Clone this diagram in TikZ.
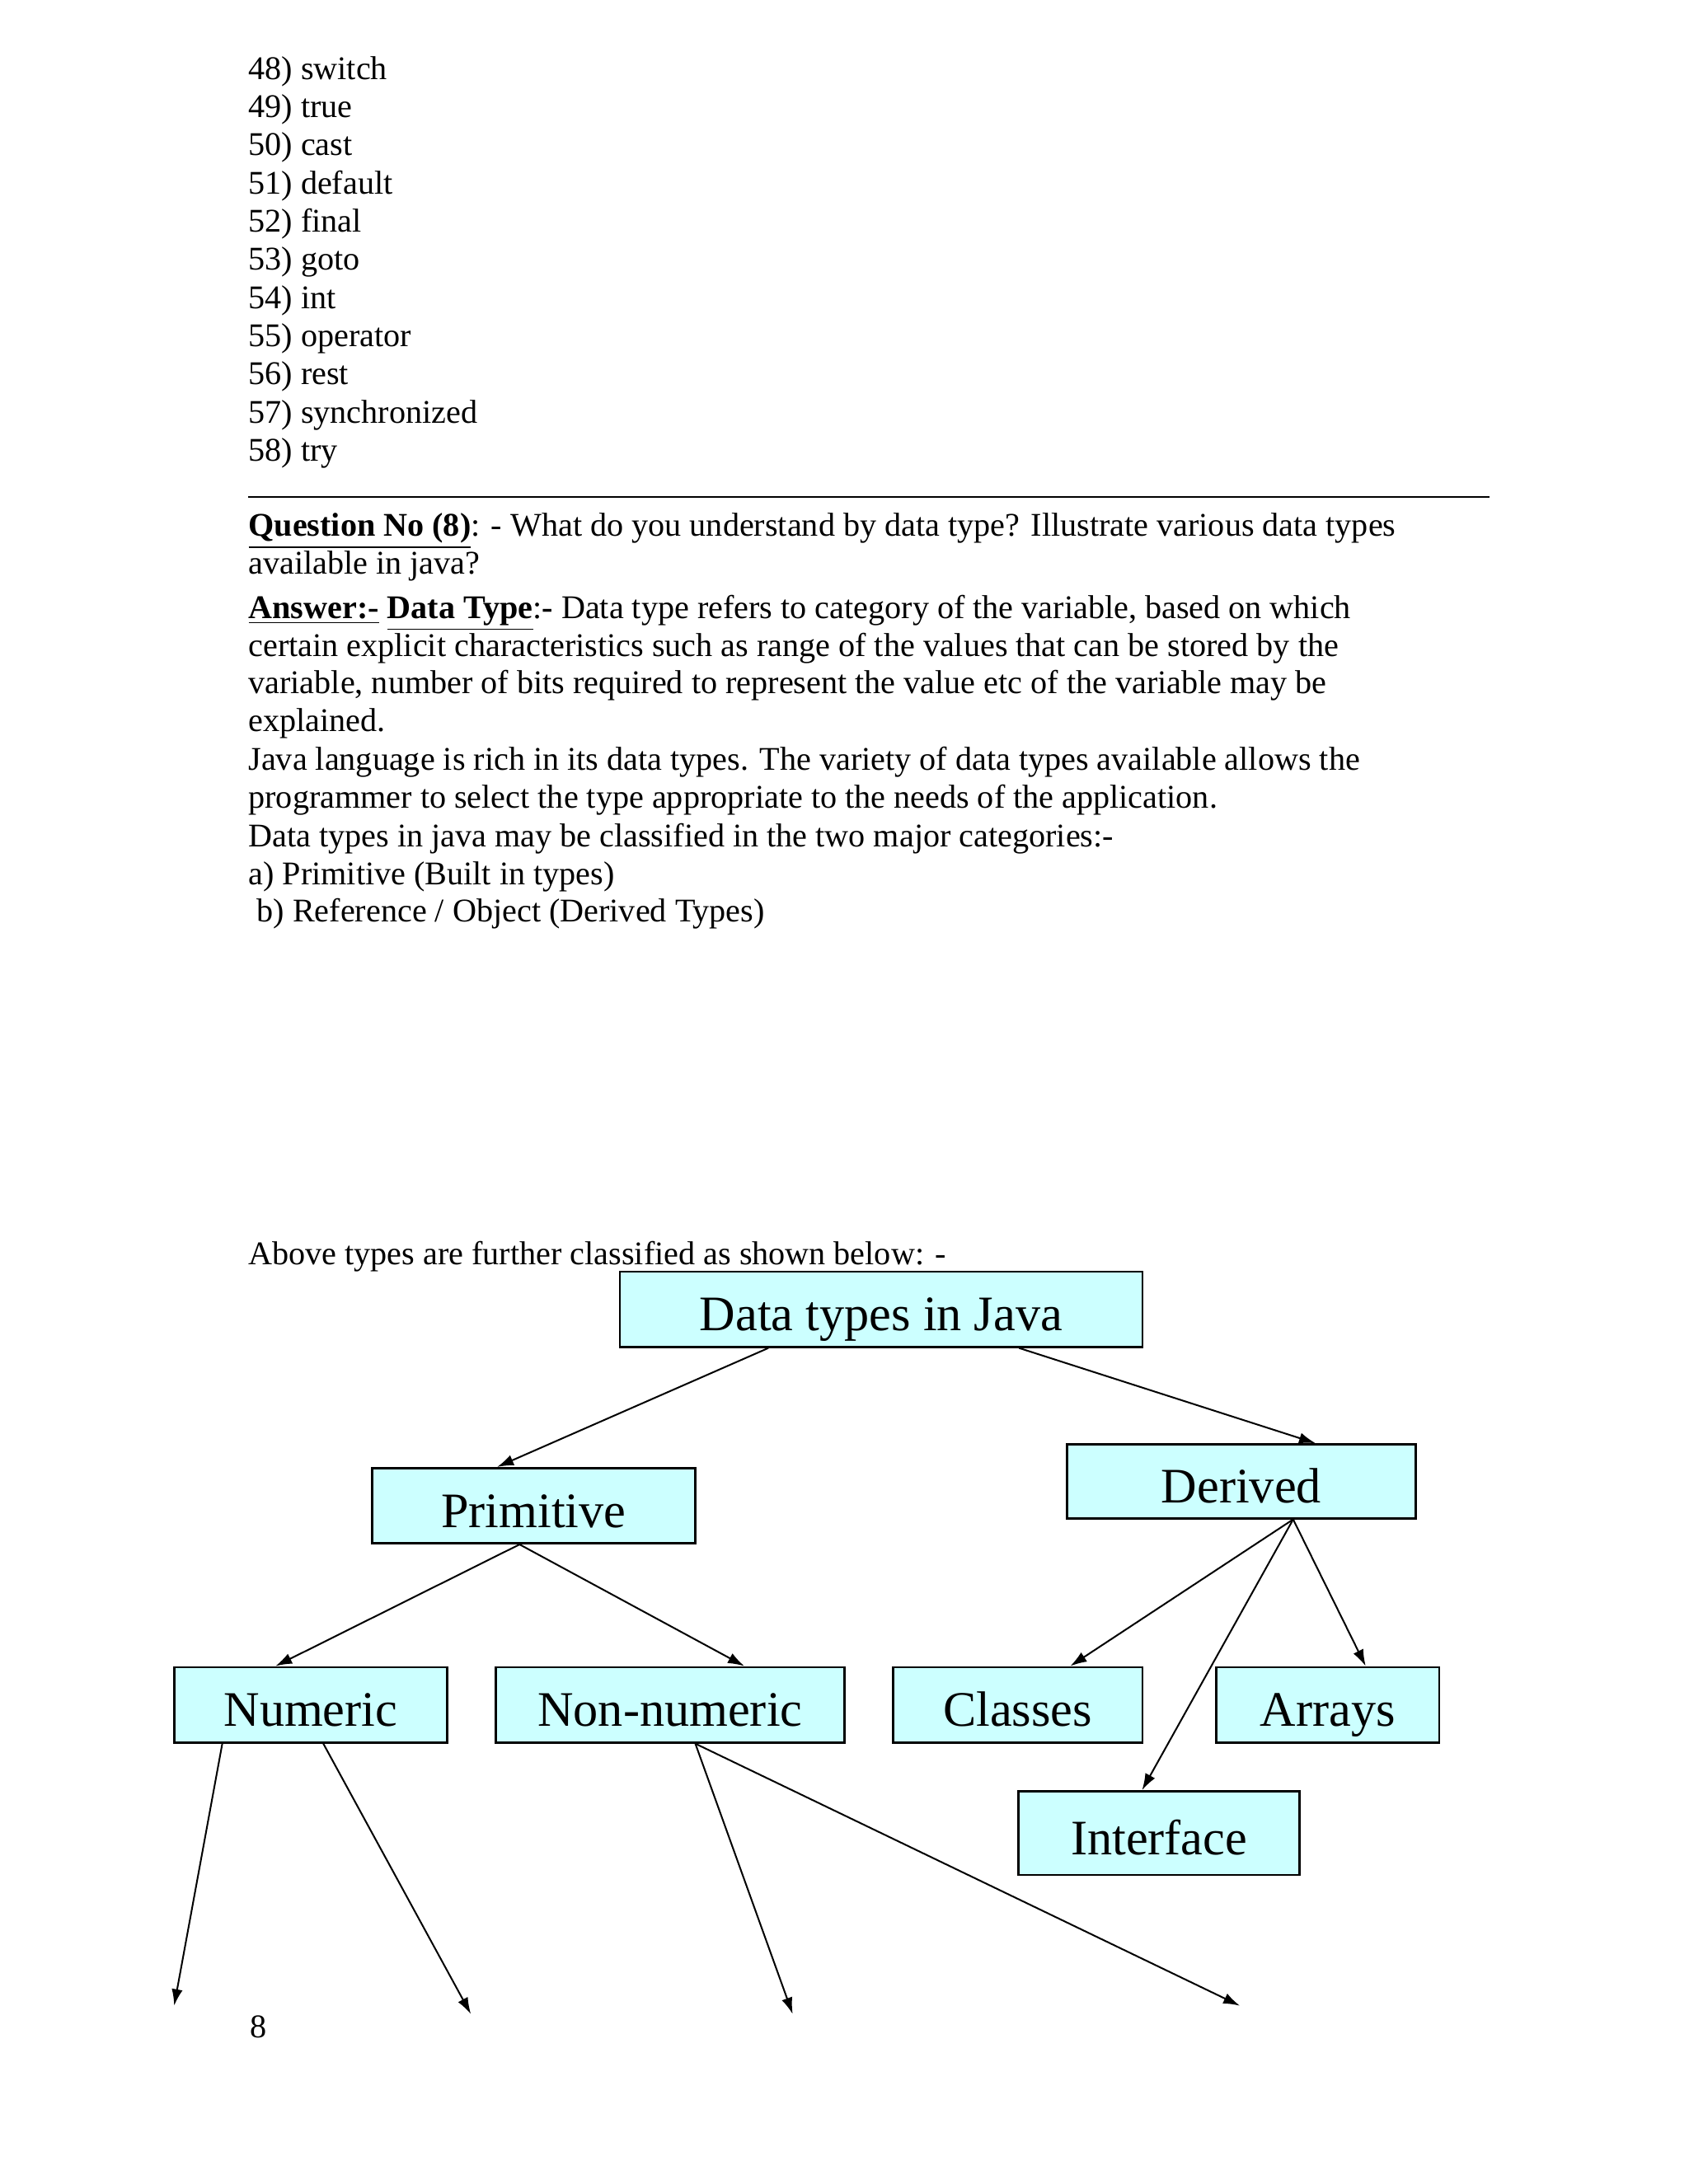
\documentclass[tikz,border=0pt]{standalone}
\usepackage{fontspec}
\setmainfont{Liberation Serif}
\usetikzlibrary{arrows.meta}
\usetikzlibrary{calc}
\definecolor{boxcyan}{RGB}{204,255,255}

\begin{document}
\begin{tikzpicture}[x=0.505pt,y=-0.505pt,
  para/.style={anchor=base west,inner sep=0pt,font=\fontsize{12}{14}\selectfont},
  typebox/.style={draw,fill=boxcyan,line width=0.8pt,inner sep=0pt,text height=15.6pt,text depth=0pt,font=\fontsize{18}{20}\selectfont},
  link/.style={-{Latex[length=6pt,width=4pt]},line width=0.6pt}]
\useasboundingbox (0,0) rectangle (1212,1568);

% keyword list
\foreach \kw [count=\i from 0] in {48) switch,49) true,50) cast,51) default,52) final,53) goto,54) int,55) operator,56) rest,57) synchronized,58) try}
  \node [para] (kw\i) at (178,{57+27.4*\i}) {\kw};

\draw [line width=0.6pt] (178,357) -- (1069,357);

% question and answer
\node [para] (q1) at (178,385) {\underline{\textbf{Question No (8)}}: - What do you understand by data type? Illustrate various data types};
\node [para] (q2) at (178,412) {available in java?};
\node [para] (a1) at (178,444) {\underline{\textbf{Answer:-}} \underline{\textbf{Data Type}}:\textbf{-} Data type refers to category of the variable, based on which};
\node [para] (a2) at (178,471) {certain explicit characteristics such as range of the values that can be stored by the};
\node [para] (a3) at (178,498) {variable, number of bits required to represent the value etc of the variable may be};
\node [para] (a4) at (178,525) {explained.};
\node [para] (a5) at (178,553) {Java language is rich in its data types. The variety of data types available allows the};
\node [para] (a6) at (178,580) {programmer to select the type appropriate to the needs of the application.};
\node [para] (a7) at (178,608) {Data types in java may be classified in the two major categories:-};
\node [para] (a8) at (178,635) {a) Primitive (Built in types)};
\node [para] (a9) at (184,662) {b) Reference / Object (Derived Types)};
\node [para] (above) at (178,908) {Above types are further classified as shown below: -};
\node [para] (pageno) at (179,1463) {8};

% tree of types
\node [typebox,minimum width=189.4pt,minimum height=27.3pt] (java) at (632.5,940) {Data types in Java};
\node [typebox,minimum width=117.2pt,minimum height=27.3pt] (prim) at (383,1081) {Primitive};
\node [typebox,minimum width=126.3pt,minimum height=26.8pt] (derived) at (891,1063.5) {Derived};
\node [typebox,minimum width=99pt,minimum height=27.3pt] (numeric) at (223,1224) {Numeric};
\node [typebox,minimum width=126.3pt,minimum height=27.3pt] (nonnum) at (481,1224) {Non-numeric};
\node [typebox,minimum width=90.4pt,minimum height=27.3pt] (classes) at (730.5,1224) {Classes};
\node [typebox,minimum width=80.8pt,minimum height=27.3pt] (arrays) at (953,1224) {Arrays};
\node [typebox,minimum width=102pt,minimum height=30.3pt] (interface) at (832,1316) {Interface};

\coordinate (num1) at (125,1440);
\coordinate (num2) at (338,1446);
\coordinate (non1) at (569,1446);
\coordinate (non2) at (890,1440);

\draw [link] ($(java.south west)!0.285!(java.south east)$) -- ($(prim.north west)!0.388!(prim.north east)$);
\draw [link] ($(java.south west)!0.763!(java.south east)$) -- ($(derived.north west)!0.712!(derived.north east)$);
\draw [link] ($(prim.south west)!0.457!(prim.south east)$) -- ($(numeric.north west)!0.372!(numeric.north east)$);
\draw [link] ($(prim.south west)!0.457!(prim.south east)$) -- ($(nonnum.north west)!0.712!(nonnum.north east)$);
\draw [link] ($(derived.south west)!0.648!(derived.south east)$) -- ($(classes.north west)!0.709!(classes.north east)$);
\draw [link] ($(derived.south west)!0.648!(derived.south east)$) -- ($(interface.north west)!0.44!(interface.north east)$);
\draw [link] ($(derived.south west)!0.648!(derived.south east)$) -- ($(arrays.north west)!0.669!(arrays.north east)$);
\draw [link] ($(numeric.south west)!0.179!(numeric.south east)$) -- (num1);
\draw [link] ($(numeric.south west)!0.546!(numeric.south east)$) -- (num2);
\draw [link] ($(nonnum.south west)!0.572!(nonnum.south east)$) -- (non1);
\draw [link] ($(nonnum.south west)!0.572!(nonnum.south east)$) -- (non2);
\end{tikzpicture}
\end{document}
